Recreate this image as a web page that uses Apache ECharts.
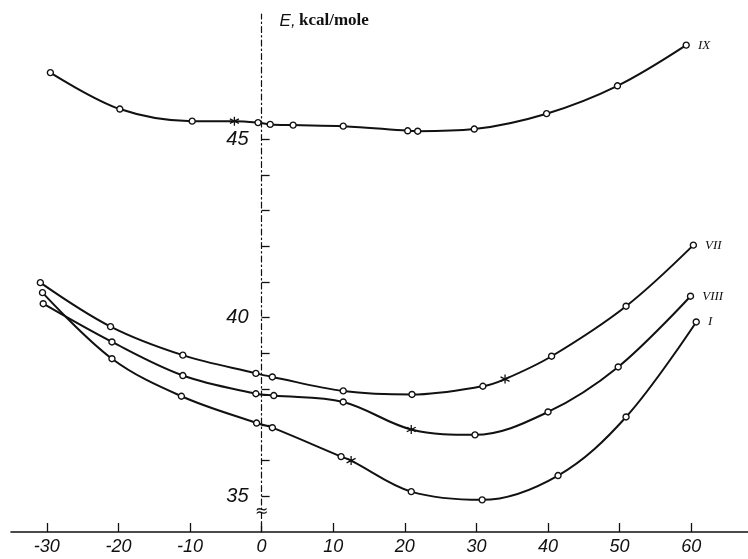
<!DOCTYPE html>
<html>
<head>
<meta charset="utf-8">
<script src="https://cdn.jsdelivr.net/npm/echarts@6/dist/echarts.min.js"></script>
<style>
html,body{margin:0;padding:0;background:#fff;}
#c{width:748px;height:559px;}
</style>
</head>
<body>
<div id="c"></div>
<script>
// Temperature (x) and energy E, kcal/mole (y) for each curve
const xIX = [-29.5, -19.8, -9.7, -3.8, -0.5, 1.2, 4.4, 11.4, 20.4, 21.8, 29.7, 39.8, 49.7, 59.3];
const yIX = [46.86, 45.84, 45.50, 45.50, 45.46, 45.41, 45.39, 45.36, 45.23, 45.22, 45.28, 45.71, 46.49, 47.63];
const starIX = 3;

const xVII = [-30.9, -21.1, -11.0, -0.8, 1.5, 11.4, 21.0, 30.9, 34.0, 40.5, 50.9, 60.3];
const yVII = [40.98, 39.75, 38.95, 38.44, 38.34, 37.95, 37.85, 38.08, 38.28, 38.92, 40.32, 42.03];
const starVII = 8;

const xVIII = [-30.5, -20.9, -11.0, -0.8, 1.7, 11.4, 20.9, 29.8, 40.0, 49.8, 59.9];
const yVIII = [40.39, 39.32, 38.38, 37.87, 37.82, 37.64, 36.87, 36.72, 37.36, 38.62, 40.60];
const starVIII = 6;

const xI = [-30.6, -20.9, -11.2, -0.7, 1.5, 11.1, 12.5, 20.9, 30.8, 41.4, 50.9, 60.7];
const yI = [40.70, 38.85, 37.80, 37.05, 36.92, 36.11, 36.00, 35.13, 34.90, 35.58, 37.22, 39.88];
const starI = 6;

const xTicks = [-30, -20, -10, 0, 10, 20, 30, 40, 50, 60];
const yTicks = [35, 36, 37, 38, 39, 40, 41, 42, 43, 44, 45];
const yLabels = [35, 40, 45];

const STAR = 'path://M0,-5L0,5M-4.33,-2.5L4.33,2.5M-4.33,2.5L4.33,-2.5';
const GRID_LEFT = 11;

function build(name, xs, ys, star) {
  return xs.map((x, i) => {
    const item = { value: [x, ys[i]] };
    if (i === star) {
      item.symbol = STAR;
      item.symbolSize = 9;
      item.itemStyle = { color: 'none', borderColor: '#111', borderWidth: 1.3 };
    }
    if (i === xs.length - 1) {
      item.label = {
        show: true, position: 'right', distance: 8,
        formatter: name, fontStyle: 'italic', fontSize: 13,
        fontFamily: 'Liberation Serif', color: '#111'
      };
    }
    return item;
  });
}

function mkSeries(name, xs, ys, star) {
  return {
    name: name, type: 'line', smooth: 0.35,
    data: build(name, xs, ys, star),
    symbol: 'circle', symbolSize: 6,
    itemStyle: { color: '#fff', borderColor: '#111', borderWidth: 1.4 },
    lineStyle: { color: '#111', width: 2 },
    emphasis: { disabled: true },
    z: 3
  };
}

const chart = echarts.init(document.getElementById('c'));
chart.setOption({
  animation: false,
  backgroundColor: '#fff',
  grid: { left: GRID_LEFT, top: 14, width: 737.5, bottom: 27, containLabel: false, outerBoundsMode: 'none' },
  xAxis: {
    type: 'value', min: -35, max: 68,
    axisLine: { onZero: false, lineStyle: { color: '#111', width: 1.6 } },
    axisTick: { inside: true, length: 9, customValues: xTicks, lineStyle: { color: '#111', width: 1.3 } },
    axisLabel: { customValues: xTicks, margin: 6, fontStyle: 'italic', fontSize: 18,
      fontFamily: 'Liberation Sans', color: '#111' },
    splitLine: { show: false }
  },
  yAxis: {
    type: 'value', min: 34, max: 48.5, position: 'left', offset: 0,
    name: '{e|E,} {k|kcal/mole}',
    nameLocation: 'end', nameGap: -7,
    nameTextStyle: {
      align: 'left', verticalAlign: 'middle', padding: [0, 0, 0, 18],
      rich: {
        e: { fontStyle: 'italic', fontFamily: 'Liberation Sans', fontSize: 17, color: '#111' },
        k: { fontWeight: 'bold', fontFamily: 'Liberation Serif', fontSize: 17, color: '#111' }
      }
    },
    axisLine: { onZero: false, lineStyle: { color: '#111', width: 1.2, type: [6, 3, 1.5, 3] } },
    axisTick: { inside: true, length: 8, customValues: yTicks, lineStyle: { color: '#111', width: 1.3 } },
    axisLabel: { customValues: yLabels, margin: 13, fontStyle: 'italic', fontSize: 20,
      fontFamily: 'Liberation Sans', color: '#111' },
    splitLine: { show: false }
  },
  series: [
    mkSeries('IX', xIX, yIX, starIX),
    mkSeries('VII', xVII, yVII, starVII),
    mkSeries('VIII', xVIII, yVIII, starVIII),
    mkSeries('I', xI, yI, starI)
  ]
});

// move the y axis onto x = 0 using the x scale
const zeroPx = chart.convertToPixel({ xAxisIndex: 0, yAxisIndex: 0 }, [0, 34.57]);
chart.setOption({
  yAxis: { offset: -(zeroPx[0] - GRID_LEFT) },
  graphic: [{
    type: 'text', x: zeroPx[0], y: zeroPx[1],
    style: { text: '≈', fontSize: 16, fill: '#111', align: 'center', verticalAlign: 'middle',
      fontFamily: 'DejaVu Sans' },
    z: 10
  }]
});
</script>
</body>
</html>
